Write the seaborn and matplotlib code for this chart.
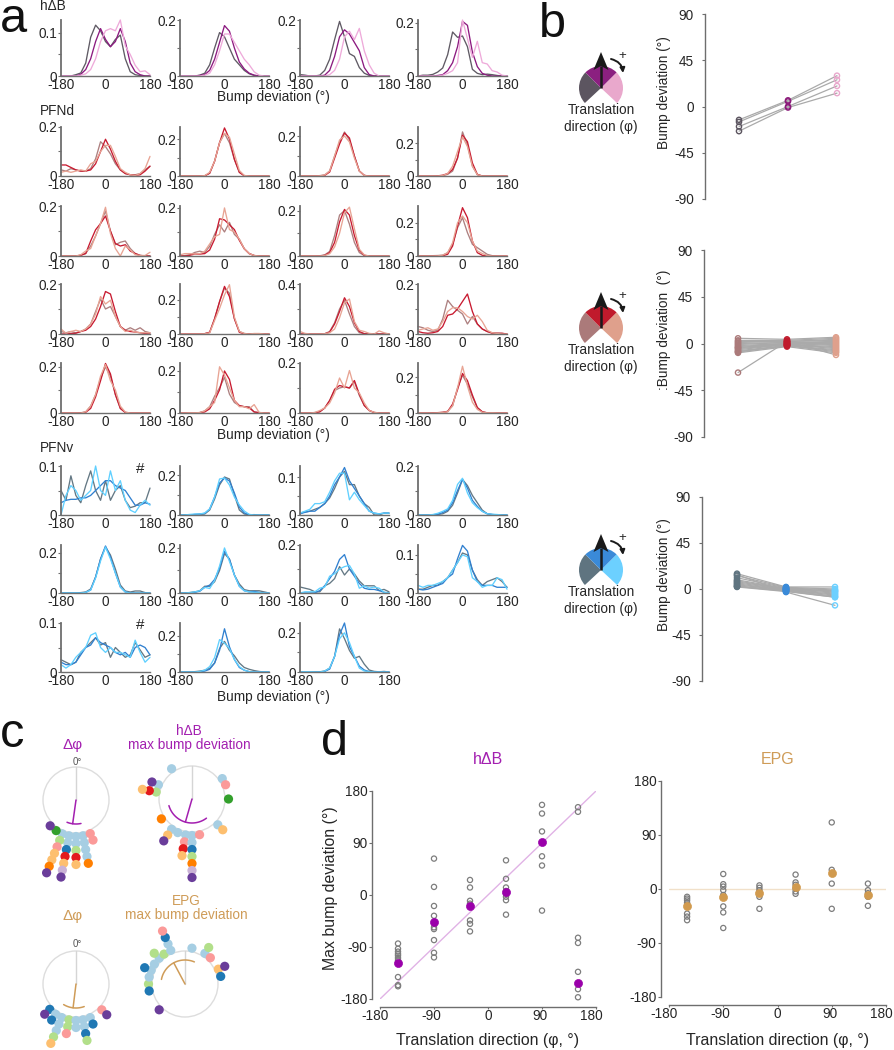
import numpy as np
import matplotlib
matplotlib.use("Agg")
import matplotlib.pyplot as plt
from matplotlib.patches import Wedge, Polygon, FancyArrowPatch, Circle
from matplotlib.transforms import ScaledTranslation
import seaborn as sns

sns.set_style("ticks")
plt.rcParams['font.family'] = ['Liberation Sans', 'DejaVu Sans']

# ---- panel a: bump deviation histograms, values in units of 0.01 ----
bins = [-180, -160, -140, -120, -100, -80, -60, -40, -20, 0, 20, 40, 60, 80, 100, 120, 140, 160, 180]
x_ticks = [-180, 0, 180]

hdb_curves = [
    [[0, 0, 0, .3, .7, 3, 9, 11.8, 10.5, 8, 6.8, 8.5, 9.5, 4, 1, .3, .1, 0, 0],
     [0, 0, 0, 0, .4, 1.5, 4, 8, 11, 8.5, 6.8, 8, 11, 8, 3, 1, .3, 0, 0],
     [0, 0, 0, 0, .2, .5, 1.5, 4, 8, 10.5, 11, 10.5, 13, 7, 5, 2.5, 1, 1.2, .3]],
    [[0, 0, 0, 0, .3, 1, 4, 10, 15.5, 14, 10, 6, 4, 2, .8, .2, 0, 0, 0],
     [0, 0, 0, 0, .2, .5, 2, 6, 12, 18, 16, 10, 5, 2.5, 1, .3, 0, 0, 0],
     [0, 0, 0, 0, 0, .3, 1, 4, 9, 15, 15, 12, 9, 6, 4, 1.5, .3, 0, 0]],
    [[.5, .3, 0, 0, .3, 2, 6, 13, 19.5, 14, 8, 7, 3, 1, .2, 0, 0, 0, 0],
     [0, 0, 0, 0, 0, .3, 2, 7, 14, 16.5, 15, 12, 9, 3, .5, 0, 0, 0, 0],
     [0, 0, 0, 0, 0, 0, .5, 2, 6, 14, 16, 13, 17, 9, 4, 1, 0, 0, 0]],
    [[0, .3, .3, .6, 1.5, 3, 8, 16.5, 14.5, 15, 11, 2.5, 1, .5, .7, .5, .2, 0, 0],
     [0, 0, 0, 0, .2, .5, 2, 5, 11, 20.5, 19, 9, 3.5, 1, .3, 0, 0, 0, 0],
     [0, 0, 0, 0, 0, .3, 1, 2, 5, 21, 14, 7, 13, 5, 4.5, 2, 1.5, .3, 0]],
]
hdb_ymax = [.13, .2, .2, .21]
hdb_tick = [.1, .2, .2, .2]

pfnd_curves = [
    [[2.5, 2, 3, 2.5, 2, 2, 3, 7, 14, 12, 9, 5, 2.5, 1, .5, .5, 1, 2.5, 4],
     [4.5, 4.5, 3.5, 2.5, 2, 2, 2.5, 5, 10, 15, 11, 6, 2.5, 1, .5, .3, .5, 2, 4],
     [1.5, 2, 1.5, 2, 2.5, 2, 5, 6, 10, 12.5, 12.5, 8, 3, 1.5, .5, .2, 1, 3, 8]],
    [[0, 0, 0, 0, 0, .1, 1.5, 8, 18, 23, 18, 9, 2, .2, 0, 0, 0, 0, 0],
     [0, 0, 0, 0, 0, .1, 1.5, 8, 18, 26, 20, 9, 2, .1, 0, 0, 0, 0, 0],
     [0, 0, 0, 0, 0, .2, 2, 8, 18, 23, 21, 12, 3, .3, 0, 0, 0, 0, 0]],
    [[0, 0, 0, 0, .2, .5, 2.5, 10, 17, 22, 18, 10, 2.5, .3, 0, 0, 0, 0, 0],
     [0, 0, 0, 0, .1, .3, 2, 9, 16, 21.5, 19, 10, 2.5, .3, 0, 0, 0, 0, 0],
     [0, 0, 0, 0, .1, .5, 2.5, 10, 18, 20, 17, 9, 2.5, .2, 0, 0, 0, 0, 0]],
    [[0, 0, 0, 0, 0, .2, 1, 3, 11, 27, 19, 6, .8, 0, 0, 0, 0, 0, 0],
     [0, 0, 0, 0, .1, .5, 1.5, 4, 11, 25, 21, 8, 1, 0, 0, 0, 0, 0, 0],
     [0, 0, 0, 0, 0, .3, 1.5, 6, 15, 24, 18, 6, .8, 0, 0, 0, 0, 0, 0]],

    [[0, 0, 0, 0, .3, 1, 4, 8, 13, 18, 10, 4.5, 5.5, 6, 3, 1, .3, 0, 0],
     [0, 0, 0, 0, .3, 1, 6, 10.5, 13, 16, 10, 5, 4, 4.5, 2, 1, .2, 0, 0],
     [0, 0, 0, 0, .5, 2, 3, 8, 13, 19.5, 9, 3, 0, 4, 2.5, .5, .2, .2, 1.5]],
    [[0, .2, .5, 1.5, 2, 1.5, 4, 9, 13, 10, 14, 9, 7, 3, 1, .2, 0, 0, 0],
     [0, 0, .3, .8, .8, 1, 2.5, 7, 15.5, 15, 13, 11, 6.5, 3, 1, .2, 0, 0, 0],
     [.5, 1, 1, .8, 1, 2, 5, 8, 9, 20, 11, 10, 7, 3, 1, .2, 0, 0, 0]],
    [[0, 0, 0, 0, .1, .5, 2, 9, 18, 20, 14, 6, 1.5, .2, 0, 0, 0, 0, 0],
     [0, 0, 0, 0, 0, .3, 1.5, 6, 15, 20.5, 18, 9, 2.5, .3, 0, 0, 0, 0, 0],
     [0, 0, 0, 0, 0, .2, 1, 4, 10, 19, 21.5, 12, 3, .5, 0, 0, 0, 0, 0]],
    [[0, .2, .1, .2, .3, .5, 2, 7, 17, 23, 14, 7, 5, 3, 1, .2, 0, 0, 0],
     [0, 0, 0, 0, .1, .2, 1, 6, 18, 29, 23, 9, 2, .4, .1, 0, 0, 0, 0],
     [0, 0, 0, 0, .1, .5, 2, 8, 20, 24, 20, 9, 3, 1.5, .3, 0, 0, 0, 0]],

    [[1, .5, 1, .5, 1, 2, 4, 9, 14, 10, 11, 7, 3, 1.5, 2.5, 1.5, 2.5, 1, .5],
     [0, 0, .2, .3, 1, 1.5, 3, 6, 11, 17, 16, 9, 3, 1.5, 1, .8, .5, .2, 0],
     [2, .3, 1, 1.5, 1, 2, 4, 8, 15, 12, 13.5, 7, 3, 1, 1.5, .8, .5, .5, .5]],
    [[0, 0, 0, 0, 0, .2, 1, 9, 19, 27, 24, 9, 1.5, .3, 0, 0, 0, 0, 0],
     [0, 0, 0, 0, 0, .2, 1, 9, 19, 28, 22, 9, 1, .1, 0, 0, 0, 0, 0],
     [0, 0, 0, 0, 0, .1, .7, 8, 15, 23, 29, 10, 1.5, .3, 0, .3, .3, 0, 0]],
    [[0, 0, 0, 0, 0, .2, 2, 9, 20, 27, 16, 6, 1, .3, 0, 0, 0, 0, 0],
     [0, 0, 0, 0, 0, .2, 1.5, 8, 18, 29, 22, 9, 2, .2, 0, 0, 0, 0, 0],
     [2, .5, 0, 0, 0, .2, 1, 4, 13, 25, 28, 10, 3, 2, .5, 0, 2.5, 1, 0]],
    [[3, 2.5, 1.5, 1, 1.5, 6, 13.5, 11, 9.5, 8, 4, 7, 4, 2, 1, .5, .3, .2, 0],
     [1, .5, .3, .5, 1, 3, 7.5, 8, 10, 13, 16, 9, 4, 2, 1, .3, .3, .3, 0],
     [1.5, 2, 2.5, 1.5, 2, 5, 9, 10.5, 10.5, 9, 7, 6, 7.5, 5, 1.5, .5, .2, 0, 0]],

    [[0, 0, 0, 0, .1, .5, 3, 8, 15, 20, 16, 8, 2, .3, 0, 0, 0, 0, 0],
     [0, 0, 0, 0, 0, .3, 2, 7, 14, 21.5, 17, 8, 2, .2, 0, 0, 0, 0, 0],
     [0, 0, 0, 0, 0, .5, 3, 8, 16, 21, 14, 10, 3, .4, 0, 0, 0, 0, 0]],
    [[0, 0, 0, 0, .2, 1, 3, 8, 12, 17, 9, 5, 3.5, 3, 3, .5, .1, 0, 0],
     [0, 0, 0, 0, .2, .5, 2, 6, 11, 20, 16, 6, 3.5, 3, 2.5, .5, .2, 0, 0],
     [0, 0, .1, .1, .2, 1, 3, 5, 22, 18, 12, 6, 3, 3, 2, 4, .3, 0, 0]],
    [[0, 0, 0, .2, .5, 2, 5, 9, 10, 10.5, 10, 12.5, 7, 3, 1, .2, 0, 0, 0],
     [0, 0, 0, .1, .5, 2, 5, 9.5, 11, 10.5, 10, 13, 7.5, 3, 1, .2, 0, 0, 0],
     [0, 0, 0, .2, 1, 2, 4, 8, 14, 10, 17, 10, 8, 4, 1, .3, 0, 0, 0]],
    [[0, 0, 0, 0, .1, .3, 1, 4, 14, 21, 16, 9, 3, .6, .1, 0, 0, 0, 0],
     [0, 0, 0, .1, .2, .4, .8, 5, 13, 22, 18, 10, 3, .7, .1, 0, 0, 0, 0],
     [0, 0, 0, 0, .1, .3, .7, 4, 14, 26, 15, 6, 2, .4, .1, .1, 0, 0, 0]],
]
pfnd_ymax = [.2, .265, .245, .3, .2, .208, .22, .3, .2, .294, .4, .2, .217, .238, .2, .278]
pfnd_tick = [.2, .2, .2, .2, .2, .2, .2, .2, .2, .2, .4, .2, .2, .2, .2, .2]

pfnv_curves = [
    [[5, 3, 8, 4, 2.5, 6, 9, 5, 3, 7, 3, 5, 6, 3, 1.5, 1.8, 2.5, 2.5, 5.5],
     [2.5, 3, 3.2, 3.2, 3.5, 3.5, 4, 5, 6, 7, 7, 6, 5.5, 5, 3.5, 2, 2, 2.5, 2.2],
     [0, 4, 6, 5, 3, 4, 5, 10, 5, 4, 9, 5, 7, 3, 1, .5, 2, 3, 2]],
    [[0, 0, 0, .2, .3, .5, 2.5, 8, 15, 19, 18, 10, 2.5, .5, .1, .2, 0, 0, 0],
     [0, 0, 0, .3, .5, .8, 3, 9, 16, 18.5, 17, 11, 4, 1, .2, 0, 0, 0, 0],
     [0, 0, .3, .5, .5, 1, 3, 9, 18, 18.5, 15, 9, 5, 2, .3, 0, 0, 0, 0]],
    [[.5, .8, 1, 1.5, 2, 3, 4.5, 7, 10, 11.5, 8, 8, 5, 3, 2, 0, 0, .5, .5],
     [.3, .7, 1, 1, 2, 3, 5, 8, 10, 12.5, 9, 7, 5, 3, 1, .5, .3, .5, .5],
     [.5, 1, 1.5, 3, 3, 3.5, 6, 9, 11, 11, 4, 6, 4, 2.5, 1, .5, .3, .5, .5]],
    [[0, 0, 0, 0, .2, .5, 1.5, 4, 9, 14.5, 12, 8, 5, 2, .5, .2, 0, 0, 0],
     [0, 0, 0, .1, .3, 1, 2, 5, 10, 14.5, 11, 6, 3.5, 1.5, .5, .2, .1, 0, 0],
     [0, 0, 0, .2, .7, 1.5, 2.5, 6, 12.5, 15, 9, 5, 3, 1.5, .5, .3, .2, 0, 0]],

    [[0, 0, 0, 0, .2, .5, 2, 8, 17, 23, 19, 12, 4, 1, .5, 1, 1, .2, 0],
     [0, 0, 0, 0, 0, .3, 1.5, 8, 17, 23.5, 18, 10, 3, .5, .1, 0, 0, 0, 0],
     [0, 0, 0, 0, 0, .3, 1.5, 7.5, 16, 23, 17, 10, 3, .5, 0, 0, 0, 0, 0]],
    [[0, 0, .2, .5, 1, 3, 3, 5, 10, 17.5, 15, 8, 4, 1.5, 1, 1, 1, .5, 0],
     [0, 0, .1, .3, .8, 2.5, 3.5, 6, 11, 18.5, 15, 8, 3, 1, .5, .7, .3, 0, 0],
     [0, 0, .2, .5, 1, 2.5, 2, 5.5, 12, 20, 14, 8, 3, 1, .5, .3, .2, 0, 0]],
    [[2.5, 2, 1.5, .5, .5, 3, 4, 6, 11, 7.5, 10, 8, 5, 3, 3, 3, 1, 1.5, .5],
     [0, 0, 0, .1, 1, 3, 6, 9, 14, 16, 10, 7, 4, 2, 1.5, 1.5, 1, .3, 0],
     [0, .5, .5, .5, 2, 2.5, 7, 8, 10, 11, 11.5, 8, 2, 3, 2, 2.5, 2, .3, 0]],
    [[1, 1, 1.5, 2, 2, 3, 4, 6, 8, 10.5, 10, 6, 3.5, 2, 3, 3.5, 4, 3, 1.5],
     [1, .8, 1, 1.5, 2, 2.5, 4, 5, 9, 12.5, 11, 6, 3, 2, 2, 2, 1.5, 1.5, 1.5],
     [2, 1.5, 2, 2, 2.5, 3, 4, 6, 8, 10, 9.5, 4, 3, 1.5, 2, 2, 4, 3.5, 1]],

    [[2.5, 2, 1.5, 2, 4, 5, 6, 7, 5.5, 6, 3, 5, 4, 3, 3.5, 6, 4.5, 3, 3.5],
     [2, 1.5, 1.5, 2, 3.5, 5, 5.5, 7, 6, 5.5, 5, 4, 3.5, 4, 3, 5, 5.5, 5, 3.5],
     [1.5, .8, 1.5, 3, 4, 5, 7.5, 8, 5, 4, 5, 4, 4, 3.5, 3, 6.5, 4, 2, 3]],
    [[0, 0, 0, .2, .5, 1, 2, 5, 13, 17, 12, 9, 5, 2.5, 1.5, .8, .3, 0, 0],
     [0, 0, 0, 0, .2, .5, 1.5, 5, 12, 24, 14, 7, 2.5, 1, .2, 0, 0, 0, 0],
     [0, 0, 0, 0, .3, 1, 3, 8, 18, 16, 13, 7, 3, 1, .2, 0, 0, 0, 0]],
    [[0, 0, 0, 0, .1, .5, 2, 8, 22, 17, 11, 7, 8, 4, 1, .3, .1, .3, 0],
     [0, 0, 0, 0, 0, .3, 1.5, 8, 19, 25, 13, 8, 3, 1, .2, 0, 0, 0, 0],
     [0, .1, .1, 0, 0, .5, 2, 8, 17, 20, 15, 8, 2, .5, .2, 0, 0, 0, 0]],
]
pfnv_ymax = [.1, .245, .129, .2, .24, .213, .2, .126, .1, .272, .25]
pfnv_tick = [.1, .2, .1, .2, .2, .2, .2, .1, .1, .2, .2]

hdb_colors = ['#5f5a64', '#8c1a80', '#eeaada']
pfnd_colors = ['#ad8080', '#c81a30', '#e8a494']
pfnv_colors = ['#647884', '#3080d0', '#60d0ff']

# ---- panel b: bump deviation per translation direction ----
b1_left = [-13, -15, -19.5, -24]
b1_mid = [6, 5, 0, -1]
b1_right = [30, 26, 20, 13]
b2_left = [5, 3, 2, 1, 0, -1, -2, -3, -4, -4, -5, -6, -7, -8, -8, -9, -28]
b2_mid = [4, 3, 2, 2, 1, 1, 0, 0, 0, -1, -1, -1, -2, -2, -2, -3, 2]
b2_right = [6, 5, 4, 3, 2, 1, 0, -1, -2, -3, -4, -5, -6, -7, -8, -9, -11]
b3_left = [15, 13, 11, 9, 8, 7, 6, 5, 4, 3, 2.5, 2, 14]
b3_mid = [2, 1.5, 1, .5, 0, 0, -.5, -1, -1, -1.5, -2, -2.5, -3]
b3_right = [2, 0, -1, -2, -2, -3, -4, -5, -6, -7, -8, -8, -16]
b_ticks = [-90, -45, 0, 45, 90]

# ---- panel c: circular dot plots, angle from top going clockwise, dots stacked outwards ----
c1_angles = [180, 191, 202, 213, 225, 169, 157]
c1_stacks = ['lb lb lg r lo', 'lb lb b r lo li v', 'lb lg p lo lo o v', 'g', 'v', 'lb lb lb lb o', 'p p']
c2_angles = [326, 56, 67, 90, 293, 281, 237, 135, 214, 203, 190, 180, 168]
c2_stacks = ['lb', 'lb', 'p', 'g', 'lb v', 'lg r lo', 'o', 'lb lo', 'lb lo v', 'lb', 'lb p r lo', 'lb lb b lg o li v', 'p']
c3_angles = [226, 214, 203, 191, 180, 169, 157, 135]
c3_stacks = ['b v', 'lb b', 'lb lb lb lg lo', 'lg lg p', 'lb lb', 'lb lb b lg', 'lb b', 'p v']
c4_angles = [11, 33, 44, 66, 78, 225, 270, 259, 281, 292, 303, 315, 325, 337]
c4_stacks = ['lb', 'lb lg', 'p', 'lo v', 'b', 'v', 'lg', 'b', 'lb', 'lb b', 'lb', 'lb lg', 'lg', 'lb lb b p']

paired = sns.color_palette("Paired", 10)
dot_names = ['lb', 'b', 'lg', 'g', 'p', 'r', 'lo', 'o', 'li', 'v']
dot_palette = dict(zip(dot_names, paired))

# ---- panel d ----
d_dirs = [-150, -90, -30, 30, 90, 150]
hdb_points = [
    [-84, -93, -98, -102, -105, -109, -113, -142, -156, -158],
    [63, 14, -19, -36, -56, -59, -78, -100, -108],
    [26, 13, -10, -15, -44, -50, -63],
    [60, 28, 13, 7, 2, -3, -9, -34],
    [156, 141, 110, 67, 51, -27],
    [152, 144, -74, -83, -133, -163, -177],
]
hdb_means = [-117, -46, -19, 6, 92, -153]
epg_points = [
    [-13, -16, -19, -23, -41, -46, -52],
    [25, 8, 4, -2, -10, -14, -29, -39, -65],
    [6, 2, -2, -7, -13, -33],
    [24, 11, 7, 1, -4, -8],
    [111, 32, 9, -33],
    [9, -2, -7, -13, -28],
]
epg_means = [-29, -13, -6, 3, 26, -10]
d_ticks = [-180, -90, 0, 90, 180]

W, H = 894, 1050
fig = plt.figure(figsize=(W / 100, H / 100), dpi=100)
TEXT = '#262626'
SPINE = '#6e6e6e'
PURPLE = '#a31fb0'
TAN = '#cf9c58'


def px_axes(left, top, right, bottom):
    ax = fig.add_axes([left / W, 1 - bottom / H, (right - left) / W, (bottom - top) / H])
    ax.patch.set_alpha(0)
    return ax


def style_axis(ax, size=9.8):
    for s in ax.spines.values():
        s.set_color(SPINE)
        s.set_linewidth(1)
    ax.tick_params(colors=SPINE, labelcolor=TEXT, labelsize=size, length=2, width=.8, pad=1)


def small_hist(left, top, bottom, curves, colors, ymax, tick):
    ax = px_axes(left, top, left + 89, bottom)
    for values, color in zip(curves, colors):
        sns.lineplot(x=bins, y=np.array(values) / 100, color=color, lw=.95, ax=ax, clip_on=False)
    ax.set_xlim(-180, 180)
    ax.set_ylim(0, ymax)
    ax.set_xticks(x_ticks)
    ax.set_xticklabels(['-180', '0', '180'])
    ax.set_yticks([0, tick / 2, tick])
    ax.set_yticklabels(['0', '', f'{tick:g}'])
    ax.set_xlabel('')
    ax.set_ylabel('')
    sns.despine(ax=ax)
    style_axis(ax)
    ax.spines['left'].set_linewidth(1.3)
    ax.tick_params(axis='x', length=0, pad=1.5)
    return ax


col_left = [61, 180, 300, 418]
row_hdb = (20, 76)
rows_pfnd = [(127, 176), (206, 256), (284, 334), (363, 413)]
rows_pfnv = [(466, 515), (545, 593), (623, 672)]

for i, curves in enumerate(hdb_curves):
    small_hist(col_left[i], row_hdb[0], row_hdb[1], curves, hdb_colors, hdb_ymax[i], hdb_tick[i])
for i, curves in enumerate(pfnd_curves):
    r, c = divmod(i, 4)
    small_hist(col_left[c], rows_pfnd[r][0], rows_pfnd[r][1], curves, pfnd_colors, pfnd_ymax[i], pfnd_tick[i])
for i, curves in enumerate(pfnv_curves):
    r, c = divmod(i, 4)
    small_hist(col_left[c], rows_pfnv[r][0], rows_pfnv[r][1], curves, pfnv_colors, pfnv_ymax[i], pfnv_tick[i])


def open_dots(ax, x, y, edge, size, lw):
    sns.scatterplot(x=x, y=y, color=edge, edgecolor=edge, s=size, linewidth=lw, ax=ax, zorder=3, clip_on=False)
    ax.collections[-1].set_facecolor('none')


def paired_lines(left_px, top, bottom, left, mid, right, colors, xc):
    ax = px_axes(left_px, top, 860, bottom)
    for vals in zip(left, mid, right):
        sns.lineplot(x=[0, 1, 2], y=list(vals), color='#aaaaaa', lw=.9, ax=ax, zorder=1)
    for pos, vals, color in zip([0, 1, 2], [left, mid, right], colors):
        open_dots(ax, [pos] * len(vals), vals, color, 14, 1.0)
    ax.set_xlim((left_px - xc) / 49, (860 - xc) / 49)
    ax.set_ylim(-90, 90)
    ax.set_xticks([])
    ax.set_yticks(b_ticks)
    ax.set_yticklabels(['-90', '-45', '0', '45', '90'])
    sns.despine(ax=ax, bottom=True)
    style_axis(ax)
    ax.tick_params(axis='y', pad=6)


paired_lines(705, 14, 199, b1_left, b1_mid, b1_right, ['#5c5560', '#8b1a7a', '#e9a8cc'], 739)
paired_lines(704, 250, 437, b2_left, b2_mid, b2_right, ['#ab7a7a', '#c01a2c', '#dfa08c'], 738)
paired_lines(702, 497, 681, b3_left, b3_mid, b3_right, ['#5f7480', '#3a8ad8', '#6cd0ff'], 737)


def scatter_panel(left, right, top, bottom, points, means, color, guide_y):
    ax = px_axes(left, top, right, bottom)
    sns.lineplot(x=[-180, 180], y=guide_y, color=matplotlib.colors.to_rgba(color, .3), lw=1, ax=ax, zorder=1)
    for d, vals in zip(d_dirs, points):
        open_dots(ax, [d] * len(vals), vals, '#7d7d7d', 14, .9)
    sns.scatterplot(x=d_dirs, y=means, color=color, edgecolor=color, s=34, ax=ax, zorder=4)
    ax.set_xlim(-180, 180)
    ax.set_ylim(-180, 180)
    ax.set_xticks(d_ticks)
    ax.set_yticks(d_ticks)
    ax.set_xticklabels([str(t) for t in d_ticks])
    ax.set_yticklabels([str(t) for t in d_ticks])
    sns.despine(ax=ax, offset={'left': 6, 'bottom': 6})
    style_axis(ax)
    ax.tick_params(axis='x', pad=0, length=1.5)
    ax.tick_params(axis='y', pad=1)
    # tick labels sit a little left of their ticks in the original
    for lab, shift in zip(ax.get_xticklabels(), [5, 3, 0, 2, 4.5]):
        nudge = ScaledTranslation(-shift / 100, 0, fig.dpi_scale_trans)
        lab.set_transform(lab.get_transform() + nudge)
    return ax


scatter_panel(380, 596, 791, 999, hdb_points, hdb_means, '#9a00aa', [-180, 180])
scatter_panel(669, 886, 781, 997, epg_points, epg_means, '#d19a4e', [0, 0])

# overlay in pixel units for schematics and free text
ov = fig.add_axes([0, 0, 1, 1], zorder=10)
ov.set_xlim(0, W)
ov.set_ylim(H, 0)
ov.axis('off')
ov.set_autoscale_on(False)


def label(x, y, s, size=9.8, color=TEXT, **kw):
    kw.setdefault('ha', 'center')
    kw.setdefault('va', 'center')
    ov.text(x, y, s, fontsize=size, color=color, **kw)


for x, y, s in [(0, 32, 'a'), (539, 37, 'b'), (0, 747, 'c'), (321, 755, 'd')]:
    label(x, y, s, size=35, color='#111111', ha='left', va='baseline')

label(40, 6, 'hΔB', ha='left')
label(40, 111, 'PFNd', ha='left')
label(40, 448, 'PFNv', ha='left')
for y in [97, 435, 697]:
    label(273, y, 'Bump deviation (°)')
label(140, 469, '#', size=11)
label(140, 625, '#', size=11)

label(664, 93, 'Bump deviation (°)', rotation=90)
label(664, 330, ':Bump deviation  (°)', rotation=90)
label(664, 575, 'Bump deviation (°)', rotation=90)

label(488, 760, 'hΔB', size=11.5, color=PURPLE)
label(778, 760, 'EPG', size=11.5, color=TAN)
label(488, 1041, 'Translation direction (φ, °)', size=11.4)
label(778, 1041, 'Translation direction (φ, °)', size=11.4)
label(330, 888, 'Max bump deviation (°)', size=11.4, rotation=90)


def icon(cx, cy, colors, text_y):
    ov.add_patch(Wedge((cx, cy), 22, 137, 225, color=colors[0], lw=0))
    ov.add_patch(Wedge((cx, cy), 22, 315, 43, color=colors[2], lw=0))
    ov.add_patch(Wedge((cx, cy), 22, 225, 315, color=colors[1], lw=0))
    ov.plot([cx, cx], [cy, cy - 22], color='#1a1a1a', lw=1.8, solid_capstyle='butt')
    ov.add_patch(Polygon([(cx, cy - 36), (cx - 7.5, cy - 18), (cx, cy - 22), (cx + 7.5, cy - 18)], color='#1a1a1a', lw=0))
    ov.add_patch(FancyArrowPatch((cx + 10, cy - 29), (cx + 22, cy - 15), connectionstyle='arc3,rad=-0.35',
                                 arrowstyle='-|>', mutation_scale=7, lw=1.4, color='#1a1a1a', shrinkA=0, shrinkB=0))
    label(cx + 21, cy - 32, '+', size=9.5)
    label(cx, text_y, 'Translation')
    label(cx, text_y + 17, 'direction (φ)')


icon(601, 88, ['#5c5560', '#8b2080', '#e9a8cc'], 110)
icon(601, 328, ['#ab7a7a', '#c01a2c', '#dfa08c'], 350)
icon(601, 570, ['#5f7480', '#3a8ad8', '#6cd0ff'], 592)


def compass(cx, cy, angles, stacks, vec_angle, vec_len, arc_from, arc_to, color):
    R = 33
    ov.add_patch(Circle((cx, cy), R, fill=False, ec='#dddddd', lw=1))
    ov.plot([cx, cx], [cy, cy - R], color='#d5d5d5', lw=1)
    xs, ys, names = [], [], []
    for ang, stack in zip(angles, stacks):
        for level, name in enumerate(stack.split()):
            r = 36.5 + 7 * level
            xs.append(cx + r * np.sin(np.radians(ang)))
            ys.append(cy - r * np.cos(np.radians(ang)))
            names.append(name)
    sns.scatterplot(x=xs, y=ys, hue=names, palette=dot_palette, s=44, linewidth=0, legend=False, ax=ov, clip_on=False)
    t = np.radians(vec_angle)
    ov.plot([cx, cx + vec_len * np.sin(t)], [cy, cy - vec_len * np.cos(t)], color=color, lw=1.1)
    arc = np.radians(np.linspace(arc_from, arc_to, 40))
    ov.plot(cx + 24 * np.sin(arc), cy - 24 * np.cos(arc), color=color, lw=1.1)


compass(76, 800, c1_angles, c1_stacks, 188, 24, 202, 168, PURPLE)
compass(192, 799, c2_angles, c2_stacks, 196, 24, 254, 143, PURPLE)
compass(76, 984, c3_angles, c3_stacks, 187, 24, 211, 160, TAN)
compass(185, 984, c4_angles, c4_stacks, 332, 24, 281, 383, TAN)

label(77, 762, '0°', size=7, color='#555555')
label(77, 944, '0°', size=7, color='#555555')
label(73, 745, 'Δφ', size=11, color=PURPLE)
label(189, 731, 'hΔB', color=PURPLE)
label(189, 745, 'max bump deviation', color=PURPLE)
label(73, 916, 'Δφ', size=11, color=TAN)
label(186, 901, 'EPG', color=TAN)
label(186, 915, 'max bump deviation', color=TAN)

fig.savefig('out.png', dpi=100)
